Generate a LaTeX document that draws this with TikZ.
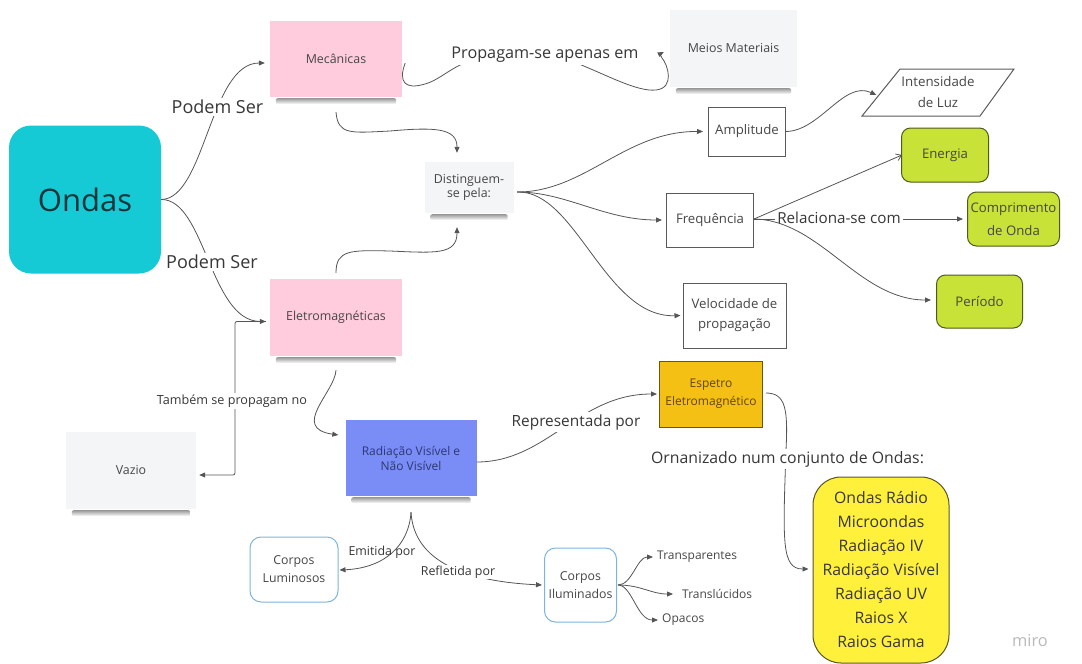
\documentclass[tikz,border=0pt]{standalone}
\usepackage{fontspec}
\setmainfont{Open Sans}
\usetikzlibrary{arrows.meta}

\definecolor{linec}{RGB}{85,85,85}
\definecolor{notetext}{RGB}{70,70,70}
\definecolor{labeltext}{RGB}{55,55,55}
\definecolor{tealfill}{RGB}{21,202,212}
\definecolor{ondastext}{RGB}{16,52,58}
\definecolor{pinkfill}{RGB}{255,204,222}
\definecolor{paperfill}{RGB}{244,245,247}
\definecolor{bluefill}{RGB}{122,141,246}
\definecolor{bluetext}{RGB}{45,55,115}
\definecolor{orangefill}{RGB}{245,192,20}
\definecolor{orangeline}{RGB}{110,85,20}
\definecolor{orangetext}{RGB}{95,70,10}
\definecolor{limefill}{RGB}{201,226,55}
\definecolor{limeline}{RGB}{80,90,30}
\definecolor{yellowfill}{RGB}{255,240,60}
\definecolor{yellowline}{RGB}{90,85,40}
\definecolor{framec}{RGB}{90,90,90}
\definecolor{cardline}{RGB}{125,180,222}
\definecolor{mirogray}{RGB}{185,185,185}

\tikzset{
  link/.style={draw=linec, line width=0.8pt, -{Triangle[length=6pt,width=5pt]}},
  sticky/.style={rectangle, inner sep=2pt, align=center,
    font=\fontsize{12.4}{15}\selectfont, text=notetext},
  framed/.style={rectangle, draw=framec, line width=1pt, fill=white, align=center,
    inner sep=2pt, font=\fontsize{13.2}{20}\selectfont, text=notetext},
  lime/.style={rectangle, rounded corners=9pt, draw=limeline, line width=1pt,
    fill=limefill, align=center, inner sep=1pt,
    font=\fontsize{13.2}{23}\selectfont, text=notetext},
  card/.style={rectangle, rounded corners=11pt, draw=cardline, line width=1pt,
    fill=white, align=center, font=\fontsize{12.3}{18}\selectfont, text=notetext},
  tag/.style={fill=white, inner sep=2pt, text=labeltext},
  leaf/.style={inner sep=1pt, anchor=west, text=notetext, font=\fontsize{12}{15}\selectfont},
  noteshadow/.style={top color=black!40, bottom color=white, rounded corners=2pt},
}

\begin{document}
\begin{tikzpicture}[x=1pt,y=-1pt]
\useasboundingbox (0,0) rectangle (1082,664);

% ---------- main concept ----------
\node[rectangle, rounded corners=22pt, fill=tealfill, minimum width=152pt,
      minimum height=148pt, font=\fontsize{31}{36}\selectfont, text=ondastext]
      (ondas) at (85,199.5) {Ondas};

% ---------- sticky notes ----------
\node[sticky, fill=pinkfill, minimum width=132pt, minimum height=76pt] (mec) at (336,59) {Mecânicas};
\node[sticky, fill=pinkfill, minimum width=132pt, minimum height=77pt] (eletro) at (336,317.5) {Eletromagnéticas};
\node[sticky, fill=paperfill, minimum width=127pt, minimum height=77pt] (meios) at (733.5,48.5) {Meios Materiais};
\node[sticky, fill=paperfill, minimum width=89pt, minimum height=51pt, font=\fontsize{12.4}{14}\selectfont]
      (dist) at (469,187.5) {Distinguem-\\se pela:};
\node[sticky, fill=bluefill, minimum width=131pt, minimum height=76pt, text=bluetext,
      font=\fontsize{12}{15}\selectfont] (radiacao) at (411,458) {Radiação Visível e\\Não Visível};
\node[sticky, fill=paperfill, minimum width=130pt, minimum height=77pt] (vazio) at (131,470.5) {Vazio};

% soft shadows under the sticky notes
\foreach \n in {mec,eletro,meios,dist,radiacao,vazio}{
  \shade[noteshadow]
    ([xshift=6pt,yshift=-1pt]\n.south west) rectangle ([xshift=-6pt,yshift=-7pt]\n.south east);
}

% ---------- framed boxes ----------
\node[framed, minimum width=77pt, minimum height=49pt] (amp) at (747,131.5) {Amplitude};
\node[framed, minimum width=87pt, minimum height=54pt] (freq) at (710,220) {Frequência};
\node[framed, minimum width=103pt, minimum height=65pt] (veloc) at (734.5,315.5) {Velocidade de\\propagação};

\fill[white] (900,69) -- (1014,69) -- (980,116) -- (862,116) -- cycle;
\draw[draw=framec, line width=1pt] (900,69) -- (1014,69) -- (980,116) -- (862,116) -- cycle;
\node[align=center, minimum width=119pt, minimum height=47pt, inner sep=0pt,
      font=\fontsize{13.3}{21}\selectfont, text=notetext] (intens) at (938,92.5) {Intensidade\\de Luz};

\node[lime, minimum width=87pt, minimum height=54pt] (energia) at (945,155) {Energia};
\node[lime, minimum width=92pt, minimum height=54pt] (comp) at (1013.5,219) {Comprimento\\de Onda};
\node[lime, minimum width=86pt, minimum height=53pt] (periodo) at (979.5,301.5) {Período};

\node[rectangle, draw=orangeline, line width=1pt, fill=orangefill, minimum width=103pt,
      minimum height=66pt, align=center, text=orangetext, font=\fontsize{12}{18}\selectfont]
      (espetro) at (711,394) {Espetro\\Eletromagnético};

\node[rectangle, rounded corners=28pt, draw=yellowline, line width=1pt, fill=yellowfill,
      minimum width=136pt, minimum height=186pt, align=center, text=labeltext,
      font=\fontsize{15.8}{24}\selectfont] (lista) at (881,570)
      {Ondas Rádio\\Microondas\\Radiação IV\\Radiação Visível\\Radiação UV\\Raios X\\Raios Gama};

\node[card, minimum width=88pt, minimum height=65pt] (lumin) at (294,569.5) {Corpos\\Luminosos};
\node[card, minimum width=72pt, minimum height=74pt] (ilum) at (580.5,585) {Corpos\\Iluminados};

\node[leaf] (transp) at (656,557) {Transparentes};
\node[leaf] (transl) at (681,594) {Translúcidos};
\node[leaf] (opacos) at (661,620) {Opacos};

\node[text=mirogray, font=\fontsize{16.4}{18}\selectfont] (miro) at (1030,641) {miro};

% ---------- connectors ----------
\draw[link] (ondas.east) .. controls (205,199) and (210,63) .. ([xshift=-5pt,yshift=-4pt]mec.west);
\draw[link] (ondas.east) .. controls (205,199) and (210,321) .. ([xshift=-4pt,yshift=-4pt]eletro.west);
\draw[link, rounded corners=2pt] ([xshift=-4pt,yshift=-4pt]eletro.west) -- (235,321.5)
      |- ([xshift=3pt,yshift=-4.5pt]vazio.east);

\draw[link] ([xshift=3pt,yshift=-4pt]mec.east) .. controls (398,82) and (405,90) .. (425,84)
      .. controls (440,80) and (455,64) .. (470,62) -- (574,62)
      .. controls (607,75) and (637,92) .. (656,90)
      .. controls (675,88) and (668,65) .. (662,58)
      .. controls (660,54) .. ([xshift=-6pt,yshift=-3.5pt]meios.west);

\draw[link] ([yshift=-15pt]mec.south) .. controls (338,135) and (350,133) .. (390,131)
      .. controls (435,127) and (457,128) .. ([xshift=-12pt,yshift=9pt]dist.north);
\draw[link] ([yshift=6pt]eletro.north) .. controls (336,250) and (350,250) .. (390,251)
      .. controls (435,253) and (457,255) .. ([xshift=-12pt,yshift=-14pt]dist.south);

\draw[link] ([xshift=3.5pt,yshift=-4.5pt]dist.east) .. controls (585,192) and (625,131) .. ([xshift=-5pt]amp.west);
\draw[link] ([xshift=3.5pt,yshift=-4.5pt]dist.east) .. controls (566,192) and (604,220) .. ([xshift=-4pt]freq.west);
\draw[link] ([xshift=3.5pt,yshift=-4.5pt]dist.east) .. controls (576,190) and (605,318) .. ([xshift=-2pt]veloc.west);

\draw[link] (amp.east) .. controls (820,131) and (844,80) .. ([xshift=-2pt,yshift=-2.5pt]intens.west);

\draw[link] ([yshift=1pt]freq.east) -- ([xshift=-4pt]comp.west);
\node[tag, font=\fontsize{15.2}{18}\selectfont] (relac) at (839,218) {Relaciona-se com};
\draw[draw=linec, line width=0.8pt, -{Straight Barb[length=5pt,width=7pt]}]
      ([yshift=1pt]freq.east) -- ([xshift=1pt]energia.west);
\draw[link] ([yshift=1pt]freq.east) .. controls (820,220) and (859,300) .. ([xshift=-5pt,yshift=1.5pt]periodo.west);

\draw[link] ([yshift=-14pt]eletro.south) .. controls (335,392) and (290,428) .. ([xshift=-7pt,yshift=23pt]radiacao.west);
\draw[link] ([yshift=-4pt]radiacao.east) .. controls (547,462) and (578,394) .. ([xshift=-2pt]espetro.west);
\draw[link] ([xshift=3pt,yshift=1pt]espetro.east) .. controls (786,393) and (788,410) .. (786,450)
      .. controls (783,540) and (781,569) .. ([xshift=-4pt,yshift=1pt]lista.west);

\draw[link] ([yshift=-16pt]radiacao.south) .. controls (409,545) and (385,568) .. ([xshift=1pt,yshift=-0.5pt]lumin.east);
\draw[link] ([yshift=-16pt]radiacao.south) .. controls (413,545) and (437,580) .. ([xshift=-2pt]ilum.west);

\draw[link] ([xshift=1pt]ilum.east) .. controls (632,585) and (637,557) .. ([xshift=-3pt]transp.west);
\draw[link] ([xshift=1pt]ilum.east) .. controls (641,585) and (651,594) .. ([xshift=-8pt]transl.west);
\draw[link] ([xshift=1pt]ilum.east) .. controls (632,585) and (637,620) .. ([xshift=-3pt]opacos.west);

% ---------- connector labels ----------
\node[tag, font=\fontsize{18}{20}\selectfont] (podem1) at (217.5,107) {Podem Ser};
\node[tag, font=\fontsize{18}{20}\selectfont] (podem2) at (212,262) {Podem Ser};
\node[tag, font=\fontsize{16.2}{18}\selectfont] (propag) at (545,55) {Propagam-se apenas em};
\node[tag, font=\fontsize{12.6}{15}\selectfont] (tambem) at (232,401) {Também se propagam no};
\node[tag, font=\fontsize{15.4}{18}\selectfont] (repres) at (576,422) {Representada por};
\node[tag, font=\fontsize{15.8}{18}\selectfont] (ornan) at (787.5,459) {Ornanizado num conjunto de Ondas:};
\node[inner sep=1pt, text=labeltext, font=\fontsize{12.4}{15}\selectfont] (emit) at (382,552) {Emitida por};
\node[tag, inner sep=1pt, font=\fontsize{12.4}{15}\selectfont] (refl) at (458,572) {Refletida por};

\end{tikzpicture}
\end{document}
